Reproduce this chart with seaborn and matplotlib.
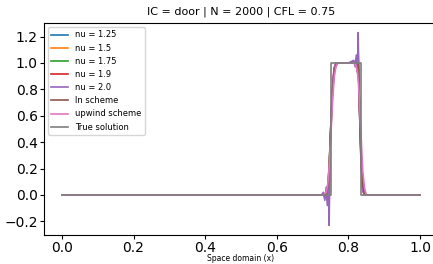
import matplotlib
matplotlib.use("Agg")
import matplotlib.pyplot as plt
import seaborn as sns

# shared x samples (space domain)
x = [0.0, 0.725, 0.73, 0.734, 0.738, 0.741, 0.744, 0.746, 0.748, 0.751, 0.755, 0.76, 0.765,
     0.77, 0.80, 0.815, 0.819, 0.822, 0.825, 0.827, 0.83, 0.835, 0.84, 0.845, 0.85, 1.0]

nu_125 = [0, 0, 0, 0, 0, 0.03, 0.12, 0.22, 0.34, 0.52, 0.76, 0.94, 0.99,
          1.0, 1.0, 1.0, 1.0, 1.0, 1.0, 1.0, 0.76, 0.31, 0.06, 0.01, 0, 0]
nu_15 = [0, 0, 0, 0, 0, 0.02, 0.11, 0.21, 0.34, 0.53, 0.77, 0.95, 0.99,
         1.0, 1.0, 1.0, 1.0, 1.01, 1.0, 1.02, 0.75, 0.30, 0.05, 0.01, 0, 0]
nu_175 = [0, 0, 0, -0.01, 0.01, -0.01, 0.09, 0.18, 0.33, 0.54, 0.78, 0.95, 0.99,
          1.0, 1.0, 1.0, 0.99, 1.02, 0.98, 1.05, 0.74, 0.28, 0.04, 0, 0, 0]
nu_19 = [0, 0, 0.01, -0.02, 0.03, -0.04, 0.06, -0.10, 0.30, 0.55, 0.79, 0.96, 1.0,
         1.0, 1.0, 1.01, 0.98, 1.04, 0.96, 1.10, 0.72, 0.26, 0.03, 0, 0, 0]
nu_20 = [0, 0, 0.02, -0.04, 0.06, -0.08, 0.10, -0.23, 0.28, 0.56, 0.80, 0.96, 1.0,
         1.0, 1.0, 1.02, 0.97, 1.06, 0.93, 1.23, 0.70, 0.25, 0.03, 0, 0, 0]
ln_scheme = [0, 0, 0, 0, 0.01, 0.04, 0.12, 0.22, 0.33, 0.50, 0.74, 0.93, 0.98,
             1.0, 1.0, 1.0, 1.0, 1.0, 1.0, 0.99, 0.77, 0.33, 0.07, 0.01, 0, 0]
upwind = [0, 0, 0, 0.01, 0.02, 0.06, 0.13, 0.21, 0.30, 0.46, 0.68, 0.89, 0.97,
          1.0, 1.0, 1.0, 0.99, 0.97, 0.93, 0.88, 0.75, 0.45, 0.18, 0.05, 0, 0]

x_true = [0.0, 0.75, 0.75, 0.835, 0.835, 1.0]
y_true = [0, 0, 1, 1, 0, 0]

series = [
    ("nu = 1.25", nu_125),
    ("nu = 1.5", nu_15),
    ("nu = 1.75", nu_175),
    ("nu = 1.9", nu_19),
    ("nu = 2.0", nu_20),
    ("ln scheme", ln_scheme),
    ("upwind scheme", upwind),
]

fig = plt.figure(figsize=(4.33, 2.64), dpi=100)
ax = fig.add_axes([0.1016, 0.110, 0.91, 0.803])
palette = sns.color_palette("tab10")

for i, (label, y) in enumerate(series):
    sns.lineplot(x=x, y=y, ax=ax, label=label, color=palette[i],
                 estimator=None, sort=False, linewidth=1.2)
sns.lineplot(x=x_true, y=y_true, ax=ax, label="True solution", color=palette[7],
             estimator=None, sort=False, linewidth=1.2)

ax.set_title("IC = door | N = 2000 | CFL = 0.75", fontsize=8)
ax.set_xlabel("Space domain (x)", fontsize=5.5)
ax.xaxis.set_label_coords(0.5, -0.09)
ax.set_ylabel("")
ax.set_xticks([0.0, 0.2, 0.4, 0.6, 0.8, 1.0])
ax.set_yticks([-0.2, 0.0, 0.2, 0.4, 0.6, 0.8, 1.0, 1.2])
ax.tick_params(labelsize=10, pad=1.5, length=3)
ax.legend(loc="upper left", fontsize=6)

fig.savefig("out.png", dpi=100)
